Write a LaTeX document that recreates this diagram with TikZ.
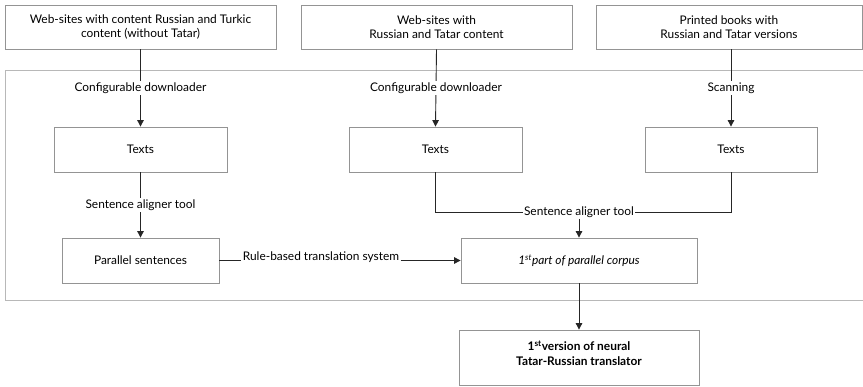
\documentclass[tikz,border=0pt]{standalone}
\usepackage{fontspec}
\setmainfont{Lato}
\usetikzlibrary{arrows.meta,positioning}
\begin{document}
\begin{tikzpicture}[x=1pt,y=-1pt,
  font=\fontsize{11.9}{14.5}\selectfont,
  box/.style={draw=black!42, line width=0.8pt, fill=white, inner sep=0pt, align=center},
  lbl/.style={fill=white, inner sep=1.2pt},
  flow/.style={draw=black!85, line width=0.9pt, -{Triangle[length=6.5pt,width=6.5pt]}},
  plain/.style={draw=black!85, line width=0.9pt}]
  \useasboundingbox (0,0) rectangle (863,387);

  % container for the processing stage
  \begin{scope}
    \clip (0,0) rectangle (863,387);
    \draw[draw=black!28, line width=1pt] (5,71) rectangle (870,301);
  \end{scope}

  % sources
  \node[box, minimum width=271, minimum height=44] (src1) at (140.5,27) {Web-sites with content Russian and Turkic\\content (without Tatar)};
  \node[box, minimum width=271, minimum height=44] (src2) at (436.5,27) {Web-sites with\\Russian and Tatar content};
  \node[box, minimum width=266, minimum height=44] (src3) at (729,27) {Printed books with\\Russian and Tatar versions};

  % collected texts
  \node[box, minimum width=173, minimum height=45] (t1) at (140.5,149.5) {Texts};
  \node[box, minimum width=173, minimum height=45] (t2) at (435.5,149.5) {Texts};
  \node[box, minimum width=172, minimum height=45] (t3) at (731,149.5) {Texts};

  % aligned data
  \node[box, minimum width=157, minimum height=45] (ps) at (140.5,260.5) {Parallel sentences};
  \node[box, minimum width=236, minimum height=45] (corpus) at (579,260.5) {\textit{1\textsuperscript{st}part of parallel corpus}};

  % result, text set a little above the middle
  \node[box, minimum width=240, minimum height=55, font=\fontsize{11.9}{15}\selectfont\bfseries] (nmt) at (579,357.5) {1\textsuperscript{st}version of neural\\Tatar-Russian translator\\[-7pt]\mbox{}};

  % downloading and scanning
  \draw[flow] (src1.south) -- node[lbl] {Configurable downloader} (t1.north);
  \draw[flow] (src2.south) -- node[lbl] {Configurable downloader} (t2.north);
  \draw[flow] (src3.south -| t3.north) -- node[lbl] {Scanning} (t3.north);

  % sentence alignment
  \draw[flow] (t1.south) -- node[lbl] {Sentence aligner tool} (ps.north);
  \node[lbl] (sa2) at (579,212) {Sentence aligner tool};
  \draw[plain] (t2.south) |- (sa2.west);
  \draw[plain] (t3.south) |- (sa2.east);
  \draw[flow] (sa2.south) -- (corpus.north);

  % rule-based translation
  \node[lbl] (rb) at (321,257.5) {Rule-based translation system};
  \draw[plain] (ps.east) -- (rb.west |- ps.east);
  \draw[flow] (rb.east |- corpus.west) -- (corpus.west);

  % training
  \draw[flow] (corpus.south) -- (nmt.north);
\end{tikzpicture}
\end{document}
